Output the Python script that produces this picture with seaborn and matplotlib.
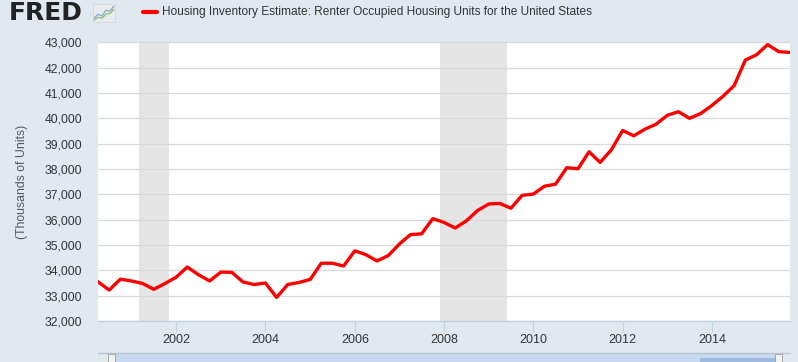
import matplotlib
matplotlib.use("Agg")
import matplotlib.pyplot as plt
from matplotlib.patches import Rectangle
import seaborn as sns
import pandas as pd

# ---- data ----
dates = pd.date_range("2000-04-01", "2015-10-01", freq="QS")
values = [
    33550, 33220, 33650,
    33580, 33480, 33250, 33480,
    33730, 34130, 33830, 33580,
    33930, 33920, 33540, 33440,
    33500, 32930, 33440, 33520,
    33640, 34280, 34280, 34170,
    34770, 34620, 34370, 34580,
    35040, 35410, 35440, 36040,
    35890, 35670, 35950, 36360,
    36620, 36640, 36450, 36960,
    37010, 37320, 37400, 38050,
    38010, 38680, 38260, 38760,
    39520, 39310, 39570, 39770,
    40120, 40260, 40000, 40190,
    40510, 40870, 41290, 42300,
    42510, 42910, 42630, 42600,
]
recessions = [("2001-03-01", "2001-11-01"), ("2007-12-01", "2009-06-01")]
series_name = "Housing Inventory Estimate: Renter Occupied Housing Units for the United States"
y_label = "(Thousands of Units)"
y_ticks = list(range(32000, 43001, 1000))
x_tick_years = [2002, 2004, 2006, 2008, 2010, 2012, 2014]

df = pd.DataFrame({"date": dates, "value": values})

# ---- style ----
sns.set_theme(style="white")
plt.rcParams["font.family"] = ["Liberation Sans", "DejaVu Sans"]
BG = "#E1E9F0"
TXT = "#333333"

fig = plt.figure(figsize=(7.98, 3.62), dpi=100, facecolor=BG)
W, H = 798, 362
left, right, top, bottom = 98, 790, 42.3, 321
ax = fig.add_axes([left / W, 1 - bottom / H, (right - left) / W, (bottom - top) / H])
ax.set_facecolor("white")

for s, e in recessions:
    ax.axvspan(pd.Timestamp(s), pd.Timestamp(e), color="#E5E5E5", lw=0, zorder=0)

sns.lineplot(data=df, x="date", y="value", ax=ax, color="#FF0000", lw=2.4,
             solid_joinstyle="round", zorder=3)

ax.set_xlim(dates[0], dates[-1])
ax.set_ylim(32000, 43000)
ax.set_yticks(y_ticks)
ax.set_yticklabels([f"{v:,}" for v in y_ticks], color=TXT, fontsize=8.8)
ax.yaxis.grid(True, color="#D8D8D8", lw=0.9)
ax.xaxis.grid(False)
ax.set_axisbelow(True)

ax.set_xticks([pd.Timestamp(f"{y}-01-01") for y in x_tick_years])
ax.set_xticklabels([str(y) for y in x_tick_years], color=TXT, fontsize=9)
ax.tick_params(axis="x", direction="out", length=8, width=0.8, color="#C0D0E0", pad=1.5, bottom=True)
ax.tick_params(axis="y", length=0, pad=11.5)

for sp in ["left", "top", "right"]:
    ax.spines[sp].set_visible(False)
ax.spines["bottom"].set_color("#C0D0E0")
ax.spines["bottom"].set_linewidth(1)

ax.set_xlabel("")
ax.set_ylabel(y_label, color="#555555", fontsize=8.8)
ax.yaxis.set_label_coords(-0.101, 0.5)

# ---- header: logo + legend ----
fig.text(9 / W, 1 - 12.5 / H, "FRED", fontsize=18, fontweight="bold", color="#222222",
         va="center", ha="left", family=["DejaVu Sans"])
icon = fig.add_axes([93 / W, 1 - 22 / H, 22 / W, 18 / H])
icon.set_facecolor("#E8ECEF")
icon.plot([0, 1, 2, 3, 4, 5], [1, 2, 1.5, 3, 2.8, 4], color="#7FA7D0", lw=0.9)
icon.plot([0, 1, 2, 3, 4, 5], [0.5, 1.2, 1.0, 2.0, 2.2, 3.2], color="#8DBF6A", lw=0.9)
icon.set_xlim(-0.3, 5.3)
icon.set_ylim(0, 4.6)
icon.set_xticks([]); icon.set_yticks([])
for sp in icon.spines.values():
    sp.set_color("#D0D6DC"); sp.set_linewidth(0.6)

fig.add_artist(plt.Line2D([143 / W, 157 / W], [1 - 12 / H, 1 - 12 / H], color="#FF0000", lw=3,
                          transform=fig.transFigure))
fig.text(162 / W, 1 - 12 / H, series_name, fontsize=8.6, color=TXT, va="center", ha="left")

# ---- navigator strip ----
fig.add_artist(plt.Line2D([98 / W, 790 / W], [1 - 353 / H, 1 - 353 / H], color="#B8C4D0", lw=1,
                          transform=fig.transFigure))
fig.add_artist(Rectangle((111 / W, 0), (776 - 111) / W, 1 - 354 / H, transform=fig.transFigure,
                         facecolor="#C6D9EF", edgecolor="none"))
fig.add_artist(Rectangle((700 / W, 0), (776 - 700) / W, 4 / H, transform=fig.transFigure,
                         facecolor="#9EBBDD", edgecolor="none"))
for hx in (108, 775):
    fig.add_artist(Rectangle((hx / W, 0), 7 / W, 8 / H, transform=fig.transFigure,
                             facecolor="#F2F2F2", edgecolor="#999999", lw=0.6))

fig.savefig("out.png", dpi=100, facecolor=BG)
